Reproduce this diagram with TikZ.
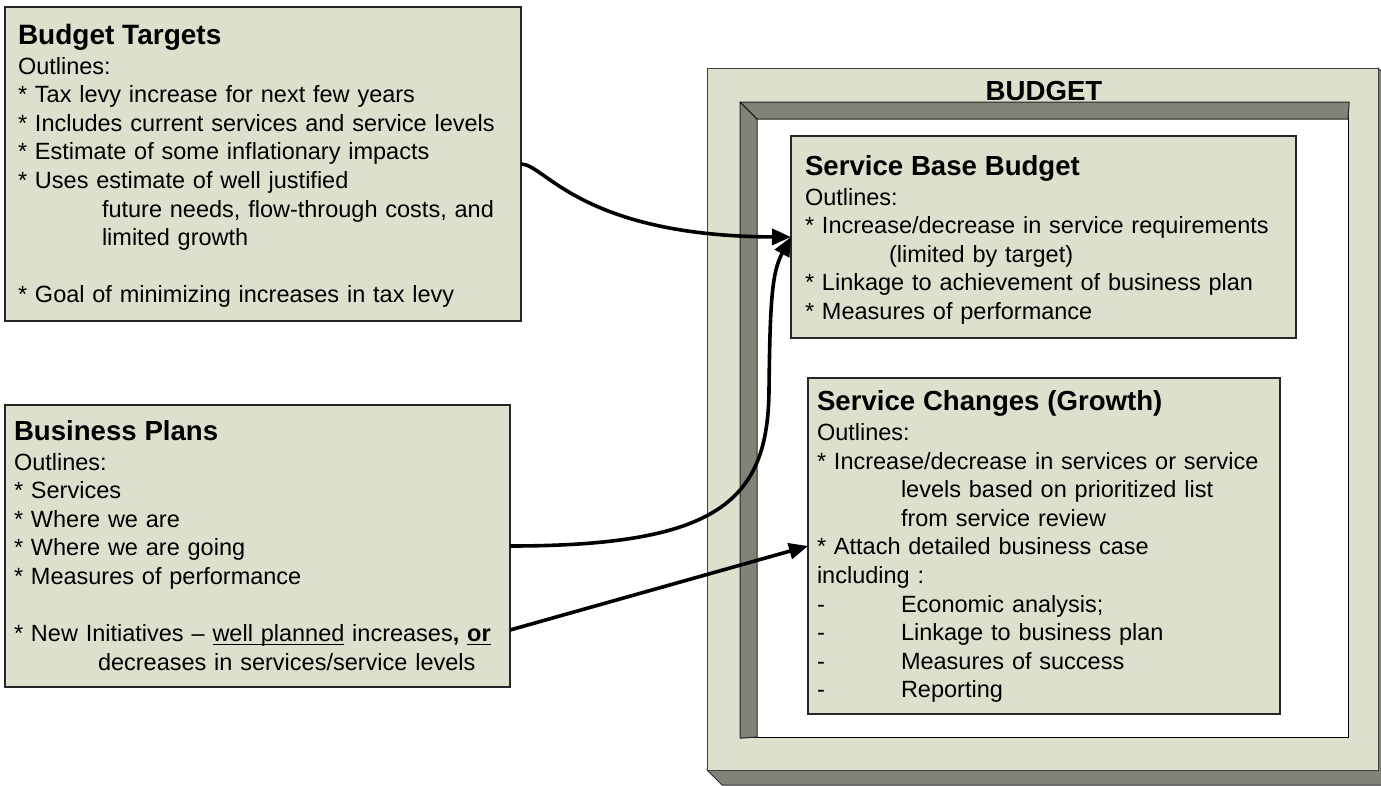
\documentclass[tikz,border=0pt]{standalone}
\usepackage{fontspec}
\setmainfont{Liberation Sans}
\usetikzlibrary{arrows.meta}

\definecolor{panel}{RGB}{221,224,204}
\definecolor{frameshade}{RGB}{128,131,120}

% underline at a fixed depth, crossing descenders
\newcommand\ulword[1]{\setbox0\hbox{#1}\leavevmode\rlap{\rule[-3.6pt]{\wd0}{1.4pt}}\box0\relax}
\newcommand\boxtitle{\fontsize{27.6}{30}\selectfont\bfseries}
\newcommand\indentby{\hspace*{84pt}}
\newcommand\itm{{*}\ }

\tikzset{
  box/.style={draw=black!85, line width=1.2pt, fill=panel, anchor=north west,
    inner sep=0pt, outer sep=0pt},
  txt/.style={anchor=base west, inner sep=0pt, outer sep=0pt, text width=#1,
    align=left, font=\fontsize{23.5}{28.6}\selectfont},
  flow/.style={line width=3.6pt, -{Triangle[length=19pt,width=16pt]}},
  edge/.style={draw=black!80, line width=1pt},
}

\begin{document}
\begin{tikzpicture}[x=1pt, y=-1pt]
\useasboundingbox (0,0) rectangle (1381,785);
\clip (0,0) rectangle (1381,785);

% ---- BUDGET plate with its depth faces ----
\filldraw[fill=frameshade, edge] (707,770) -- (722,785) -- (1393,785) -- (1393,83)
  -- (1378,68) -- (1378,770) -- cycle;
\node[box, draw=black!75, line width=1pt, minimum width=671pt, minimum height=702pt]
  (budget) at (707,68) {};

% recessed inner panel
\node[anchor=north west, fill=white, draw=black, line width=1.2pt, inner sep=0pt,
  minimum width=608pt, minimum height=635pt] (well) at (740,102) {};
\filldraw[fill=frameshade, edge, draw=black!85] (well.north west) -- (well.north east)
  -- (1348,119) -- (757,119) -- (757,737) -- (well.south west) -- cycle;
\draw[edge, draw=black] (well.north west) -- (757,119);

\node[anchor=base, font=\boxtitle] (budget-label) at (1044,100) {BUDGET};

% ---- Budget Targets ----
\node[box, minimum width=516pt, minimum height=314pt] (bt) at (5,7) {};
\node[txt=500pt] (bt-text) at (18,44) {%
  {\fontsize{28}{30}\selectfont\bfseries Budget Targets}\\[1.4pt]
  Outlines:\\
  \itm Tax levy increase for next few years\\
  \itm Includes current services and service levels\\
  \itm Estimate of some inflationary impacts\\
  \itm Uses estimate of well justified\\
  \indentby future needs, flow-through costs, and\\
  \indentby limited growth\\[28.6pt]
  \itm Goal of minimizing increases in tax levy};

% ---- Business Plans ----
\node[box, minimum width=505pt, minimum height=282pt] (bp) at (5,405) {};
\node[txt=495pt] (bp-text) at (14,440) {%
  {\boxtitle Business Plans}\\[1.4pt]
  Outlines:\\
  \itm Services\\
  \itm Where we are\\
  \itm Where we are going\\
  \itm Measures of performance\\[28.6pt]
  \itm New Initiatives -- \ulword{well planned} increases\textbf{, \ulword{or}}\\
  \indentby decreases in services/service levels};

% ---- Service Base Budget ----
\node[box, minimum width=505pt, minimum height=202pt] (sb) at (791,136) {};
\node[txt=490pt] (sb-text) at (805,175) {%
  {\boxtitle Service Base Budget}\\[1.4pt]
  Outlines:\\
  \itm Increase/decrease in service requirements\\
  \indentby (limited by target)\\
  \itm Linkage to achievement of business plan\\
  \itm Measures of performance};

% ---- Service Changes (Growth) ----
\node[box, minimum width=472pt, minimum height=336pt] (sc) at (808,378) {};
\node[txt=460pt] (sc-text) at (817,410.5) {%
  {\boxtitle Service Changes (Growth)}\\[1.4pt]
  Outlines:\\
  \itm Increase/decrease in services or service\\
  \indentby levels based on prioritized list\\
  \indentby from service review\\
  \itm Attach detailed business case\\
  including :\\
  \makebox[84pt][l]{-}Economic analysis;\\
  \makebox[84pt][l]{-}Linkage to business plan\\
  \makebox[84pt][l]{-}Measures of success\\
  \makebox[84pt][l]{-}Reporting};

% ---- connectors ----
\draw[flow] (bt.east) .. controls (545,164) and (580,236) .. (sb.west);
\draw[flow] (bp.east) .. controls (720,546) and (768,500) .. (769,390)
  .. controls (770,300) and (772,272) .. (sb.west);
\draw[flow] ([yshift=-84pt]bp.east) -- (sc.west);
\end{tikzpicture}
\end{document}
